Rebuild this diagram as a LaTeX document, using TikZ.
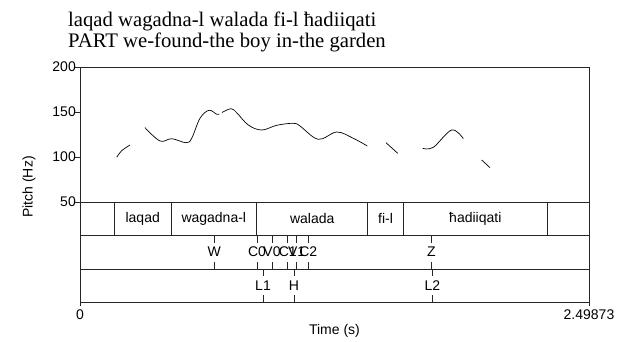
\documentclass[tikz,border=0pt]{standalone}
\usepackage{fontspec}
\setmainfont{Liberation Serif}
\setsansfont{Liberation Sans}
\tikzset{
  lbl/.style={font=\sffamily\fontsize{14}{16}\selectfont, inner sep=0pt},
  frameline/.style={draw=black!85, line width=0.8pt},
  pitch/.style={draw=black, line width=0.7pt, smooth, tension=0.6}
}
\begin{document}
\begin{tikzpicture}[x=1pt,y=-1pt]
    \useasboundingbox (0,0) rectangle (626,341);

    % gloss lines
    \node[anchor=base west, inner sep=0pt, font=\fontsize{20.7}{24}\selectfont] (gloss1) at (68,26) {laqad wagadna-l walada fi-l ħadiiqati};
    \node[anchor=base west, inner sep=0pt, font=\fontsize{20.7}{24}\selectfont] (gloss2) at (68,47) {PART we-found-the boy in-the garden};

    % frame and tiers
    \draw[frameline] (80,67) -- (589,67) -- (589,306);
    \draw[frameline] (80,67) -- (80,306);
    \draw[frameline] (80,202) -- (589,202);
    \draw[frameline] (80,235) -- (589,235);
    \draw[frameline] (80,269) -- (589,269);
    \draw[frameline] (80,302) -- (589,302);
    \foreach \x in {114.3,171,256.7,367.7,403.3,547.3}
        \draw[frameline] (\x,202) -- (\x,235);

    % y axis
    \begin{scope}[every node/.style={lbl, anchor=east}]
        \node (y200) at (76,67) {200};
        \node (y150) at (76,112) {150};
        \node (y100) at (76,157) {100};
        \node (y50) at (76,202) {50};
    \end{scope}
    \foreach \y in {67,112,157,202}
        \draw[frameline] (75,\y) -- (80,\y);
    \node[lbl, rotate=90] (ylab) at (29,187) {Pitch (Hz)};

    % x axis
    \node[lbl] (x0) at (80,315) {0};
    \node[lbl] (xend) at (589,315) {2.49873};
    \node[lbl] (xlab) at (334.5,331) {Time (s)};

    % words
    \begin{scope}[every node/.style={lbl}]
        \node (laqad) at (142.7,218.5) {laqad};
        \node (wagadna) at (213.8,218.5) {wagadna-l};
        \node (walada) at (312.2,218.5) {walada};
        \node (fil) at (385.5,218.5) {fi-l};
        \node (hadiiqati) at (475.3,218.5) {ħadiiqati};
    \end{scope}

    % segments and tones
    \foreach \x/\t [count=\i] in {214.3/W,257/C0,272/V0,287.7/C1,296.7/V1,308.3/C2,431.5/Z}{
        \node[lbl] (seg\i) at (\x,252) {\t};
        \draw[frameline, line width=0.6pt] (\x,235) -- (\x,243);
        \draw[frameline, line width=0.6pt] (\x,262) -- (\x,269);
    }
    \foreach \x/\t [count=\i] in {263/L1,294/H,432.3/L2}{
        \node[lbl] (tone\i) at (\x,285.5) {\t};
        \draw[frameline, line width=0.6pt] (\x,269) -- (\x,276);
        \draw[frameline, line width=0.6pt] (\x,295) -- (\x,302);
    }

    % pitch track
    \draw[pitch] plot coordinates {(116.7,157.3) (121.7,150.7) (130,145)};
    \draw[pitch] plot coordinates {(145,127.7) (160,141) (171.7,138.7) (186,142.7) (191.7,138.3) (200,118.3) (209,110.3) (216.7,114.3) (219.3,114)};
    \draw[pitch] plot coordinates {(222,112.5) (231,108.7) (236.7,112.7) (248.3,125) (261.7,130) (276.7,125.3) (293.3,123.3) (300,126) (318.3,139.3) (336.7,132) (353.3,138.3) (367.3,146)};
    \draw[pitch] plot coordinates {(386,142.7) (397.7,153.3)};
    \draw[pitch] plot coordinates {(422.7,148.3) (433.3,147.3) (451.7,130) (463.3,138.7)};
    \draw[pitch] plot coordinates {(481.7,160) (490,167.7)};
\end{tikzpicture}
\end{document}
